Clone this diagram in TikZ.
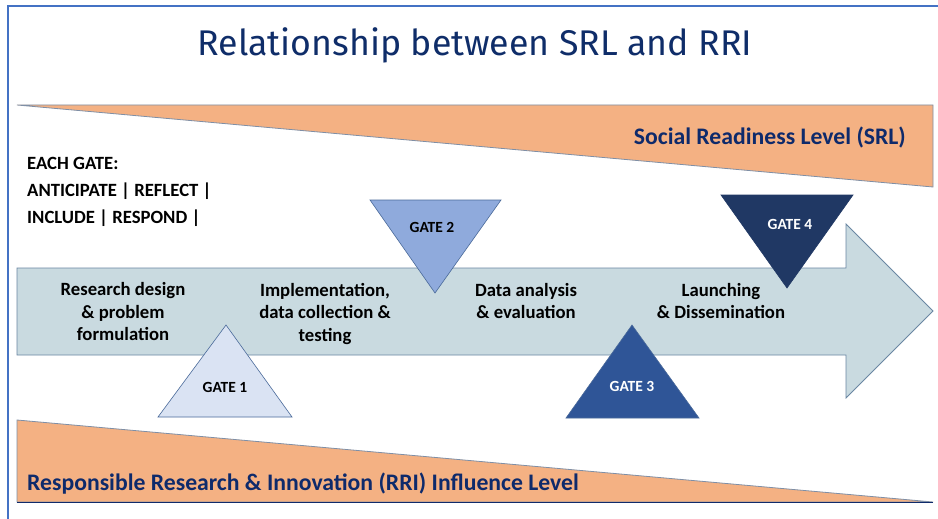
\documentclass[tikz,border=0pt]{standalone}
\usepackage{fontspec}
\setmainfont{Carlito}
\newfontfamily\titlefont{Fira Sans}
\definecolor{frameblue}{HTML}{4472C4}
\definecolor{titlenavy}{HTML}{0F2D69}
\definecolor{levelnavy}{HTML}{0E2A6B}
\definecolor{levelfill}{HTML}{F4B183}
\definecolor{leveledge}{HTML}{7F8FA6}
\definecolor{arrowfill}{HTML}{C9DAE0}
\definecolor{arrowedge}{HTML}{6A87A3}
\definecolor{gateone}{HTML}{DAE3F3}
\definecolor{gatetwo}{HTML}{8FAADC}
\definecolor{gatethree}{HTML}{2F5597}
\definecolor{gatefour}{HTML}{203864}
\definecolor{gateedge}{HTML}{4A6A9A}
\tikzset{
  level/.style={fill=levelfill, draw=leveledge, line width=0.8pt},
  gateshape/.style={draw=gateedge, line width=0.6pt},
  phase/.style={align=center, font=\bfseries\fontsize{18.7}{22.5}\selectfont, inner sep=0pt},
  gatelabel/.style={font=\bfseries\fontsize{15.5}{18}\selectfont, inner sep=0pt},
  leveltext/.style={font=\bfseries\fontsize{23.7}{28}\selectfont, text=levelnavy, inner sep=0pt},
  notetext/.style={anchor=west, font=\bfseries\fontsize{18.7}{22}\selectfont, inner sep=0pt}
}
\begin{document}
\begin{tikzpicture}[x=1pt,y=-1pt]
  \useasboundingbox (0,0) rectangle (938,519);
  \fill[white] (0,0) rectangle (938,519);
  % outer frame (left and top edges)
  \draw[frameblue, line width=1.5pt] (8,519) -- (8,6) -- (938,6);

  % title
  \node[font=\titlefont\fontsize{35.7}{42}\selectfont, text=titlenavy] (title) at (475,45) {Relationship between SRL and RRI};

  % SRL wedge (top) and RRI wedge (bottom)
  \draw[level] (17,105) -- (933,105) -- (933,187) -- cycle;
  \node[leveltext, anchor=east] (srl) at (906,137) {Social Readiness Level (SRL)};
  \draw[level] (17,420) -- (17,502) -- (933,502) -- cycle;
  \draw[levelnavy, line width=1pt] (17,502) -- (933,502);
  \node[leveltext, anchor=west] (rri) at (27,484) {Responsible Research \& Innovation (RRI) Influence Level};

  % gate note
  \node[notetext] (note1) at (27,163) {EACH GATE:};
  \node[notetext] (note2) at (27,191) {ANTICIPATE | REFLECT |};
  \node[notetext] (note3) at (27,218) {INCLUDE | RESPOND |};

  % process arrow
  \draw[fill=arrowfill, draw=arrowedge, line width=0.8pt]
    (17,268) -- (846,268) -- (846,224) -- (933,311) -- (846,398) -- (846,355) -- (17,355) -- cycle;

  % phases
  \node[phase] (p1) at (123,312) {Research design\\\& problem\\formulation};
  \node[phase] (p2) at (325,314) {Implementation,\\data collection \&\\testing};
  \node[phase] (p3) at (526,301) {Data analysis\\\& evaluation};
  \node[phase] (p4) at (721,301) {Launching\\\& Dissemination};

  % gates
  \draw[gateshape, fill=gateone] (158,417) -- (292,417) -- (226,325) -- cycle;
  \node[gatelabel] (g1) at (225,387) {GATE 1};
  \draw[gateshape, fill=gatetwo] (370,200) -- (501,200) -- (435,293) -- cycle;
  \node[gatelabel] (g2) at (432,227) {GATE 2};
  \draw[gateshape, fill=gatethree] (566,418) -- (699,418) -- (632,325) -- cycle;
  \node[gatelabel, text=white] (g3) at (632,386) {GATE 3};
  \draw[gateshape, fill=gatefour, draw=gatefour] (721,195) -- (853,195) -- (787,288) -- cycle;
  \node[gatelabel, text=white] (g4) at (790,224) {GATE 4};
\end{tikzpicture}
\end{document}
